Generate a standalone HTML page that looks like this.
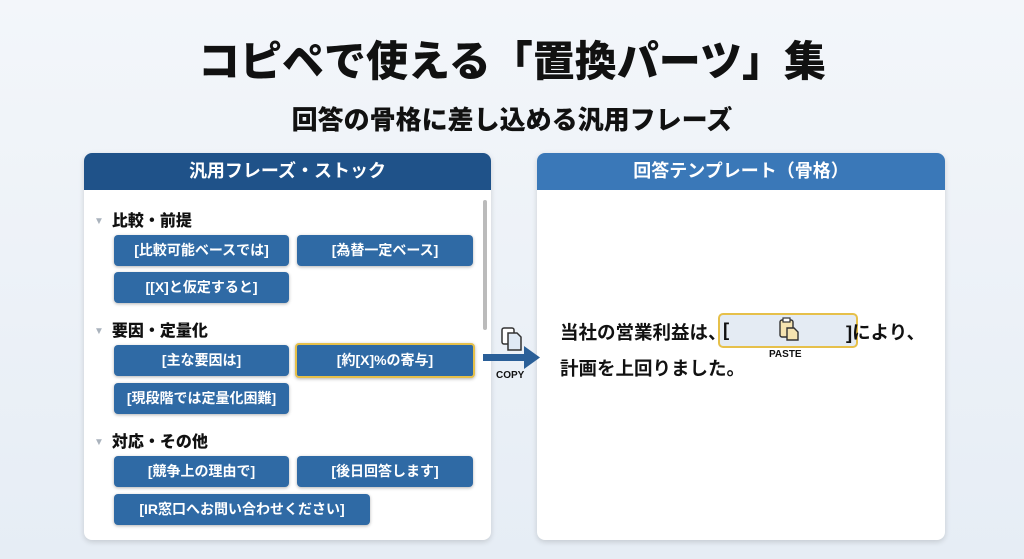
<!DOCTYPE html>
<html><head><meta charset="utf-8"><style>
body{margin:0;width:1024px;height:559px;background:linear-gradient(#f3f6fa,#e6edf5);font-family:"Liberation Sans","Noto Sans CJK JP",sans-serif;position:relative;overflow:hidden;color:#111}
.a{position:absolute}
.t{left:0;width:1024px;text-align:center;font-weight:900}
.panel{background:#fff;border-radius:8px;box-shadow:0 2px 6px rgba(0,0,0,.15);overflow:hidden}
.hd{height:37px;line-height:37px;text-align:center;color:#fff;font-size:18px;font-weight:700}
.b{position:absolute;height:31px;line-height:31px;background:#2f6aa5;color:#fff;border-radius:4px;text-align:center;font-size:14px;font-weight:700;box-shadow:0 1px 3px rgba(0,0,0,.3)}
.sec{position:absolute;left:94px;font-size:16px;font-weight:900}
.sec:before{content:"▼";color:#aab3bd;font-size:10px;margin-right:8px;vertical-align:2px}
.tx{font-size:18.5px;font-weight:700;white-space:nowrap}
</style></head><body>
<div class="a t" style="top:28px;font-size:42px">コピペで使える「置換パーツ」集</div>
<div class="a t" style="top:100px;font-size:26px">回答の骨格に差し込める汎用フレーズ</div>

<div class="a panel" style="left:84px;top:153px;width:407px;height:387px"><div class="hd" style="background:#1f5289">汎用フレーズ・ストック</div></div>
<div class="a" style="left:483px;top:200px;width:4px;height:130px;background:#bbb;border-radius:2px"></div>
<div class="sec" style="top:207px">比較・前提</div>
<div class="b" style="left:114px;top:235px;width:175px">[比較可能ベースでは]</div>
<div class="b" style="left:297px;top:235px;width:176px">[為替一定ベース]</div>
<div class="b" style="left:114px;top:272px;width:175px">[[X]と仮定すると]</div>
<div class="sec" style="top:317px">要因・定量化</div>
<div class="b" style="left:114px;top:345px;width:175px">[主な要因は]</div>
<div class="b" style="left:295px;top:343px;width:176px;border:2px solid #e6c04a">[約[X]%の寄与]</div>
<div class="b" style="left:114px;top:383px;width:175px">[現段階では定量化困難]</div>
<div class="sec" style="top:428px">対応・その他</div>
<div class="b" style="left:114px;top:456px;width:175px">[競争上の理由で]</div>
<div class="b" style="left:297px;top:456px;width:176px">[後日回答します]</div>
<div class="b" style="left:114px;top:494px;width:256px">[IR窓口へお問い合わせください]</div>

<div class="a panel" style="left:537px;top:153px;width:408px;height:387px"><div class="hd" style="background:#3a78b8">回答テンプレート（骨格）</div></div>

<svg class="a" style="left:480px;top:320px" width="70" height="70">
<rect x="22" y="8" width="12" height="16" rx="2" fill="#fff" stroke="#333" stroke-width="1.5"/>
<path d="M28 13h9l4 4v13h-13z" fill="#dfe9f5" stroke="#333" stroke-width="1.5"/>
<rect x="3" y="34" width="42" height="7" fill="#2a5f98"/>
<polygon points="44,26 60,37.5 44,49" fill="#2a5f98"/>
</svg>
<div class="a" style="left:496px;top:370px;font-size:10px;font-weight:700">COPY</div>

<div class="a" style="left:718px;top:313px;width:136px;height:31px;border:2px solid #e6c04a;border-radius:5px;background:#e4ebf3"></div>
<svg class="a" style="left:777px;top:316px" width="24" height="26"><rect x="3" y="4" width="13" height="17" rx="2" fill="#f5e3b0" stroke="#333" stroke-width="1.4"/><rect x="6" y="2" width="7" height="4" fill="#fff" stroke="#333" stroke-width="1.2"/><path d="M10 12h7l4 4v8h-11z" fill="#f5e3b0" stroke="#333" stroke-width="1.4"/></svg>
<div class="a tx" style="left:560px;top:319px">当社の営業利益は、</div>
<div class="a tx" style="left:723px;top:319px">[</div>
<div class="a tx" style="left:846px;top:319px">]により、</div>
<div class="a" style="left:769px;top:349px;font-size:10px;font-weight:700">PASTE</div>
<div class="a tx" style="left:560px;top:355px">計画を上回りました。</div>
</body></html>
